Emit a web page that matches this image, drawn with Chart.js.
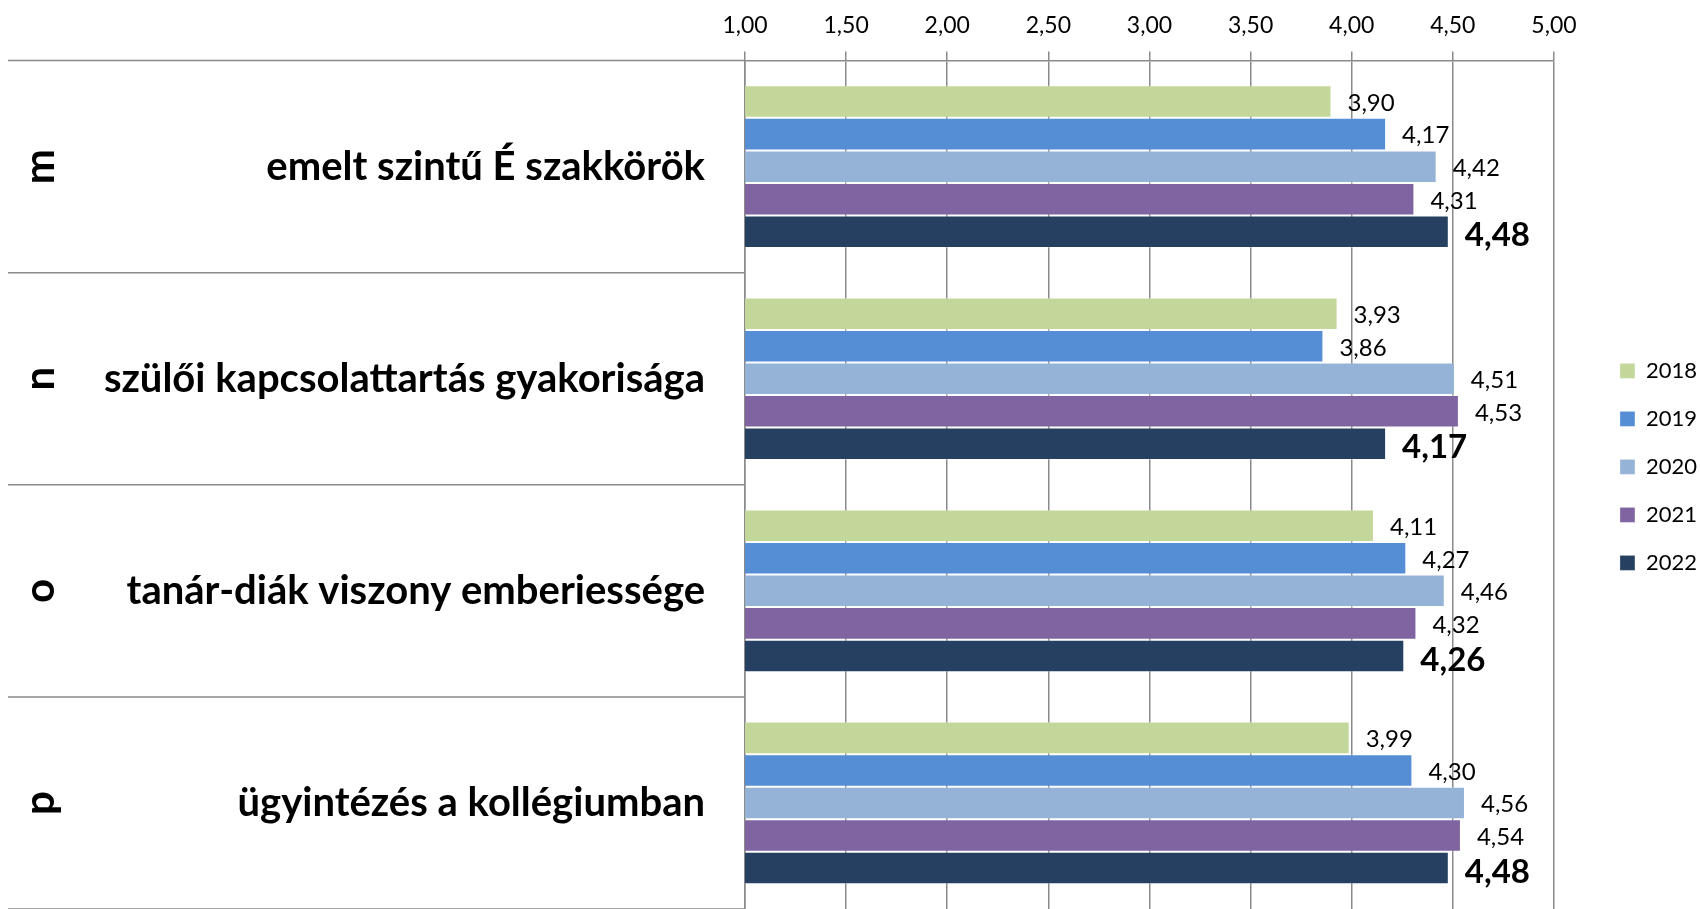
<!DOCTYPE html>
<html><head><meta charset="utf-8">
<script src="https://cdn.jsdelivr.net/npm/chart.js@4/dist/chart.umd.min.js"></script>
<style>html,body{margin:0;padding:0;background:#fff;overflow:hidden}</style>
</head><body>
<canvas id="c" width="1700" height="909"></canvas>
<script>
// ---- data ----
const codes = ['m', 'n', 'o', 'p'];
const categories = ['emelt szintű É szakkörök', 'szülői kapcsolattartás gyakorisága', 'tanár-diák viszony emberiessége', 'ügyintézés a kollégiumban'];
const years = ['2018', '2019', '2020', '2021', '2022'];
const v2018 = [3.90, 3.93, 4.11, 3.99];
const v2019 = [4.17, 3.86, 4.27, 4.30];
const v2020 = [4.42, 4.51, 4.46, 4.56];
const v2021 = [4.31, 4.53, 4.32, 4.54];
const v2022 = [4.48, 4.17, 4.26, 4.48];
const axisMin = 1, axisMax = 5, axisStep = 0.5;

const colors = ['#C4D79B', '#558ED5', '#95B3D7', '#8064A2', '#254061'];
const series = [v2018, v2019, v2020, v2021, v2022];
const FONT = 'Lato';
const GRID = '#8a8a8a';
const fmt = v => Number(v).toFixed(2).replace('.', ',');

const sidePlugin = {
  id: 'sideDecor',
  afterDraw(chart) {
    const ctx = chart.ctx;
    const ys = chart.scales.y;
    const step = ys.getPixelForValue(1) - ys.getPixelForValue(0);
    ctx.save();
    ctx.strokeStyle = GRID;
    ctx.lineWidth = 1.5;
    for (let i = 0; i <= categories.length; i++) {
      const y = ys.getPixelForValue(0) - step / 2 + i * step;
      ctx.beginPath();
      ctx.moveTo(8, y);
      ctx.lineTo(chart.chartArea.left, y);
      ctx.stroke();
    }
    ctx.fillStyle = '#000';
    ctx.font = 'bold 42px ' + FONT;
    ctx.textAlign = 'center';
    ctx.textBaseline = 'middle';
    codes.forEach((c, i) => {
      const y = ys.getPixelForValue(i);
      ctx.save();
      ctx.translate(40, y);
      ctx.rotate(-Math.PI / 2);
      ctx.fillText(c, 0, 0);
      ctx.restore();
    });
    ctx.restore();
  },
  afterDatasetsDraw(chart) {
    const ctx = chart.ctx;
    ctx.save();
    ctx.fillStyle = '#000';
    ctx.textAlign = 'left';
    ctx.textBaseline = 'middle';
    chart.data.datasets.forEach((ds, i) => {
      const meta = chart.getDatasetMeta(i);
      const last = i === chart.data.datasets.length - 1;
      ctx.font = (last ? 'bold 33px ' : '24px ') + FONT;
      meta.data.forEach((bar, j) => {
        ctx.fillText(fmt(ds.data[j]), bar.x + 16, bar.y + (last ? 4 : 1.6));
      });
    });
    ctx.restore();
  }
};

new Chart(document.getElementById('c'), {
  type: 'bar',
  data: {
    labels: categories,
    datasets: years.map((y, i) => ({
      label: y,
      data: series[i],
      backgroundColor: colors[i],
      borderColor: 'rgba(255,255,255,0.3)',
      borderWidth: 1,
      categoryPercentage: 0.767,
      barPercentage: 1
    }))
  },
  options: {
    indexAxis: 'y',
    responsive: false,
    animation: false,
    devicePixelRatio: 1,
    layout: { padding: { top: 0, bottom: -2, left: 0, right: -7 } },
    plugins: {
      legend: {
        position: 'right',
        align: 'center',
        title: { display: true, text: '', font: { size: 19 }, padding: 0 },
        labels: {
          boxWidth: 15, boxHeight: 15, padding: 26,
          color: '#000',
          font: { family: FONT, size: 22 }
        }
      },
      tooltip: { enabled: false }
    },
    scales: {
      x: {
        position: 'top',
        min: axisMin, max: axisMax,
        ticks: {
          stepSize: axisStep,
          color: '#000',
          padding: 12,
          font: { family: FONT, size: 23 },
          callback: v => fmt(v)
        },
        grid: { color: GRID, lineWidth: 1.5, tickLength: 9, drawTicks: true },
        border: { display: true, color: GRID, width: 1.5 }
      },
      y: {
        position: 'left',
        grid: { display: false, drawTicks: false },
        border: { display: true, color: GRID, width: 1.5 },
        ticks: {
          color: '#000',
          padding: 40,
          font: { family: FONT, size: 40, weight: 'bold' }
        },
        afterFit: s => { s.width = 745; s.paddingTop = 0; s.paddingBottom = 0; }
      },
      sp: {
        type: 'linear',
        position: 'right',
        display: true,
        grid: { display: false, drawTicks: false },
        border: { display: false },
        ticks: { display: false },
        afterFit: s => { s.width = 40; s.paddingTop = 0; s.paddingBottom = 0; }
      }
    }
  },
  plugins: [sidePlugin]
});
</script>
</body></html>
